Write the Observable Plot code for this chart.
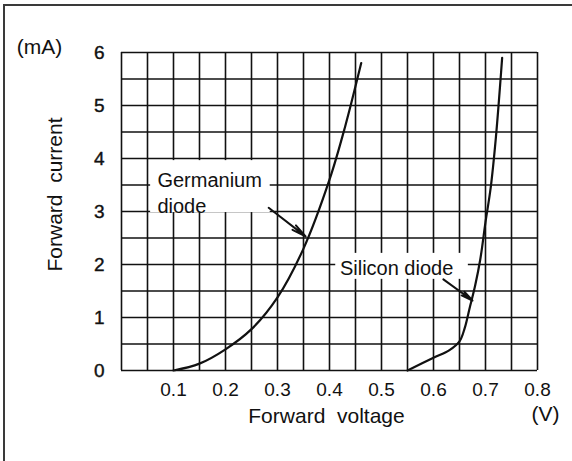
<!DOCTYPE html>
<html>
<head>
<meta charset="utf-8">
<script src="https://cdn.jsdelivr.net/npm/d3@7"></script>
<script src="https://cdn.jsdelivr.net/npm/@observablehq/plot@0.6"></script>
<style>
  html, body { margin: 0; padding: 0; background: #fff; }
  #wrap { position: relative; width: 572px; height: 461px; overflow: hidden; }
  #frame { position: absolute; left: 3px; top: 4px; right: -4px; bottom: -4px;
           border-top: 2px solid #3a3a3a; border-left: 2px solid #3a3a3a; pointer-events: none; }
  svg { display: block; }
</style>
</head>
<body>
<div id="wrap"><div id="frame"></div></div>
<script>
// ---- data ----
const gridVoltage = [0, 0.05, 0.1, 0.15, 0.2, 0.25, 0.3, 0.35, 0.4, 0.45, 0.5, 0.55, 0.6, 0.65, 0.7, 0.75, 0.8];
const gridCurrent = [0, 0.5, 1, 1.5, 2, 2.5, 3, 3.5, 4, 4.5, 5, 5.5, 6];
const xTickLabels = [0.1, 0.2, 0.3, 0.4, 0.5, 0.6, 0.7, 0.8];
const yTickLabels = [0, 1, 2, 3, 4, 5, 6];

const germaniumV = [0.1, 0.15, 0.2, 0.25, 0.3, 0.35, 0.4, 0.43, 0.461];
const germaniumI = [0, 0.13, 0.40, 0.78, 1.38, 2.3, 3.6, 4.6, 5.8];
const siliconV = [0.55, 0.6, 0.63, 0.65, 0.66, 0.67, 0.68, 0.69, 0.70, 0.71, 0.72, 0.729, 0.732];
const siliconI = [0, 0.24, 0.38, 0.55, 0.8, 1.2, 1.6, 2.1, 2.8, 3.45, 4.4, 5.5, 5.9];

const labelNames = ["Germanium\ndiode", "Silicon diode"];
const labelV = [0.069, 0.42];
const labelI = [3.37, 1.96];
const boxV1 = [0.056, 0.412];
const boxV2 = [0.286, 0.667];
const boxI1 = [2.98, 1.72];
const boxI2 = [3.96, 2.21];
const leaderV1 = [0.283, 0.619];
const leaderI1 = [3.07, 1.72];
const leaderV2 = [0.354, 0.675];
const leaderI2 = [2.53, 1.32];

const germanium = germaniumV.map((v, i) => ({v, c: germaniumI[i]}));
const silicon = siliconV.map((v, i) => ({v, c: siliconI[i]}));
const labels = labelNames.map((t, i) => ({t, v: labelV[i], c: labelI[i]}));
const boxes = boxV1.map((v, i) => ({v1: v, v2: boxV2[i], c1: boxI1[i], c2: boxI2[i]}));
const leaders = leaderV1.map((v, i) => ({v1: v, c1: leaderI1[i], v2: leaderV2[i], c2: leaderI2[i]}));

const font = "'Liberation Sans', Arial, Helvetica, sans-serif";
const ink = "#111";

const chart = Plot.plot({
  width: 572,
  height: 461,
  marginLeft: 121,
  marginRight: 35,
  marginTop: 52,
  marginBottom: 91,
  x: {domain: [0, 0.8], axis: null},
  y: {domain: [0, 6], axis: null},
  style: {fontFamily: font, background: "transparent", color: ink},
  marks: [
    Plot.ruleX(gridVoltage, {x: d => d, y1: 0, y2: 6, stroke: ink, strokeWidth: 1.6}),
    Plot.ruleY(gridCurrent, {y: d => d, x1: 0, x2: 0.8, stroke: ink, strokeWidth: 1.6}),
    Plot.rect(boxes, {x1: "v1", x2: "v2", y1: "c1", y2: "c2", fill: "white"}),
    Plot.line(germanium, {x: "v", y: "c", curve: "catmull-rom", stroke: ink, strokeWidth: 2.2}),
    Plot.line(silicon, {x: "v", y: "c", curve: "catmull-rom", stroke: ink, strokeWidth: 2.2}),
    Plot.arrow(leaders, {x1: "v1", y1: "c1", x2: "v2", y2: "c2", stroke: ink, strokeWidth: 2, headAngle: 22, headLength: 11}),
    Plot.text(labels, {x: "v", y: "c", text: "t", textAnchor: "start", lineAnchor: "middle", lineHeight: 1.28, fontSize: 20, fill: ink}),
    // tick labels
    Plot.text(xTickLabels, {x: d => d, frameAnchor: "bottom", dy: 19, text: d => d3.format(".1f")(d), textAnchor: "middle", lineAnchor: "middle", fontSize: 19, fill: ink}),
    Plot.text(yTickLabels, {y: d => d, frameAnchor: "left", dx: -17, text: d => String(d), textAnchor: "end", lineAnchor: "middle", fontSize: 19, fill: ink, stroke: ink, strokeWidth: 0.4}),
    // units and titles
    Plot.text(["(mA)"], {frameAnchor: "top-left", dx: -82, dy: -5, textAnchor: "middle", lineAnchor: "middle", fontSize: 21, fill: ink}),
    Plot.text(["(V)"], {frameAnchor: "bottom-right", dx: 8, dy: 44, textAnchor: "middle", lineAnchor: "middle", fontSize: 21, fill: ink}),
    Plot.text(["Forward  voltage"], {frameAnchor: "bottom", dx: -3, dy: 46, textAnchor: "middle", lineAnchor: "middle", fontSize: 21, fill: ink}),
    Plot.text(["Forward  current"], {frameAnchor: "left", dx: -66, dy: -17, rotate: -90, textAnchor: "middle", lineAnchor: "middle", fontSize: 21, fill: ink})
  ]
});
document.getElementById("wrap").prepend(chart);
</script>
</body>
</html>
